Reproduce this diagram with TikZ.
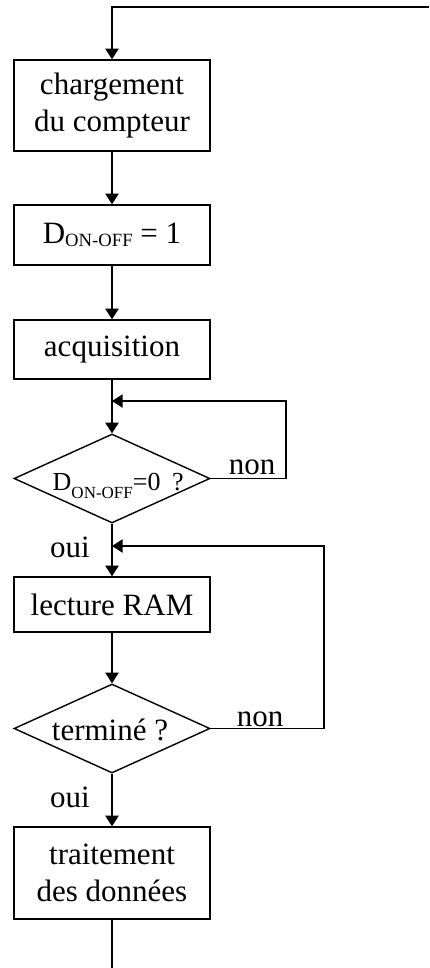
\documentclass[tikz,border=0pt]{standalone}
\usepackage{fontspec}
\setmainfont{Liberation Serif}
\usetikzlibrary{shapes.geometric,arrows.meta}

\begin{document}
\begin{tikzpicture}[x=0.75pt,y=-0.75pt,
  line width=1.05pt,
  txt/.style={font=\fontsize{23.25}{27.75}\selectfont},
  procbox/.style={draw, txt, minimum width=147pt, inner sep=0pt, align=center},
  testbox/.style={draw, diamond, minimum width=147pt, minimum height=66.75pt, inner sep=0pt},
  lbl/.style={txt, inner sep=0pt, anchor=base},
  arr/.style={-{Triangle[length=8pt,width=10pt]}}]

\useasboundingbox (0,0) rectangle (429,968);

% process boxes
\node[procbox, minimum height=68.25pt] (b1) at (112,105.5) {chargement\\du compteur};
\node[procbox, minimum height=45pt] (b2) at (112,235)
  {D{\fontsize{14}{14}\selectfont\raisebox{-2.25pt}{ON-OFF}} = 1};
\node[procbox, minimum height=44.25pt] (b3) at (112,349.5) {acquisition};
\node[procbox, minimum height=41.25pt] (b4) at (112,604.5) {lecture RAM};
\node[procbox, minimum height=69pt] (b5) at (112,873) {traitement\\des données};

% tests
\node[testbox] (d1) at (112,478.5) {};
\node[inner sep=0pt, anchor=base west, font=\fontsize{19.5}{19.5}\selectfont] (t1) at (52,490)
  {D{\fontsize{12.75}{12.75}\selectfont\raisebox{-6pt}{ON-OFF}}=0\hspace{0.45em}?};
\node[testbox] (d2) at (112,728.5) {};
\node[lbl] (t2) at (110,740) {terminé ?};

% branch labels
\node[lbl] (n1) at (252,474) {non};
\node[lbl] (n2) at (260,726) {non};
\node[lbl] (o1) at (70,557) {oui};
\node[lbl] (o2) at (70,807) {oui};

% loose ends and loop corners
\coordinate (in) at (429,7);
\coordinate (out) at (112,968);
\coordinate (j1) at (112,401);
\coordinate (j2) at (112,546);
\coordinate (c1) at (286,401);
\coordinate (c2) at (324,546);

% flow
\draw[arr] (in) -| (b1.north);
\draw[arr] (b1) -- (b2);
\draw[arr] (b2) -- (b3);
\draw[arr] (b3) -- (d1);
\draw[arr] (d1.east) -| (c1) -- (j1);
\draw[arr] (d1) -- (b4);
\draw[arr] (b4) -- (d2);
\draw[arr] (d2.east) -| (c2) -- (j2);
\draw[arr] (d2) -- (b5);
\draw (b5) -- (out);
\end{tikzpicture}
\end{document}
